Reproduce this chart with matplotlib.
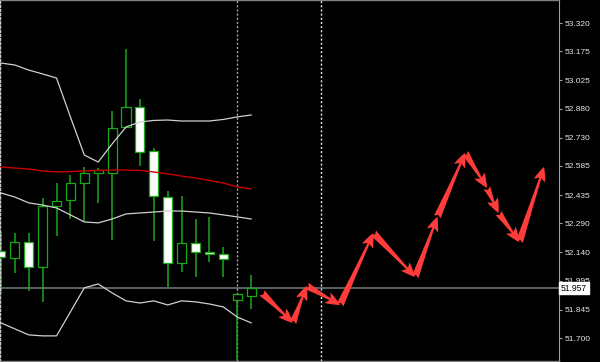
import matplotlib
matplotlib.use("Agg")
import matplotlib.pyplot as plt

# ---- data ----
opens  = [52.149, 52.112, 52.194, 52.065, 52.379, 52.410, 52.497, 52.549, 52.549, 52.785,
          52.888, 52.662, 52.425, 52.086, 52.189, 52.143, 52.132, 51.896, 51.916]
highs  = [52.245, 52.240, 52.240, 52.420, 52.497, 52.539, 52.580, 52.574, 52.868, 53.186,
          52.929, 52.677, 52.456, 52.431, 52.312, 52.323, 52.168, 51.927, 52.024]
lows   = [51.932, 52.035, 51.942, 51.886, 52.225, 52.312, 52.297, 52.395, 52.204, 52.780,
          52.585, 52.199, 51.963, 52.040, 52.014, 52.091, 52.014, 51.587, 51.850]
closes = [52.115, 52.194, 52.065, 52.379, 52.405, 52.497, 52.549, 52.564, 52.780, 52.888,
          52.657, 52.431, 52.086, 52.189, 52.143, 52.132, 52.107, 51.927, 51.957]

upper_band  = [53.114, 53.104, 53.078, 53.058, 53.037, 52.837, 52.641, 52.605, 52.698, 52.785,
               52.811, 52.819, 52.821, 52.816, 52.816, 52.816, 52.824, 52.837, 52.847]
middle_band = [52.446, 52.425, 52.395, 52.384, 52.369, 52.333, 52.297, 52.292, 52.312, 52.338,
               52.343, 52.348, 52.353, 52.353, 52.348, 52.343, 52.333, 52.323, 52.312]
lower_band  = [51.778, 51.747, 51.716, 51.711, 51.711, 51.834, 51.958, 51.978, 51.932, 51.891,
               51.880, 51.891, 51.870, 51.891, 51.886, 51.875, 51.860, 51.808, 51.778]
ma_red      = [52.580, 52.574, 52.569, 52.559, 52.554, 52.556, 52.559, 52.562, 52.564, 52.564,
               52.562, 52.554, 52.544, 52.533, 52.523, 52.510, 52.497, 52.477, 52.467]

arrow_x = [18.78, 21.0, 22.0, 24.4, 26.8, 29.8, 31.4, 33.4, 34.97, 35.8, 37.3, 39.07]
arrow_y = [51.932, 51.778, 51.968, 51.870, 52.240, 52.014, 52.323, 52.652, 52.472, 52.343,
           52.194, 52.580]

current_price = 51.957
current_label = "51.957"
sep_gray = [17]
sep_white = [23]
tick_labels = ["53.320", "53.175", "53.025", "52.880", "52.730", "52.585",
               "52.435", "52.290", "52.140", "51.995", "51.845", "51.700"]

# ---- style ----
BG = "black"
GREEN = "#18A818"
BAND = "#D0D0D0"
RED_MA = "#C80000"
ARROW = "#FF3C3C"
FONT = "Liberation Sans"

fig = plt.figure(figsize=(6.0, 3.62), dpi=100, facecolor=BG)
ax = fig.add_axes([0.0, 0.003, 559 / 600, 0.997])
ax.set_facecolor(BG)

xs = list(range(len(opens)))

# wicks
ax.vlines(xs, lows, highs, color=GREEN, linewidth=1.1, zorder=2)
# bodies
for x, o, c in zip(xs, opens, closes):
    fill = "black" if c >= o else "white"
    ax.bar(x, abs(c - o), bottom=min(o, c), width=0.66, color=fill,
           edgecolor=GREEN, linewidth=0.9, zorder=3)

# indicators
for band in (upper_band, middle_band, lower_band):
    ax.plot(xs, band, color=BAND, linewidth=0.9, zorder=4)
ax.plot(xs, ma_red, color=RED_MA, linewidth=1.0, zorder=4)

# current price line
ax.axhline(current_price, color="#5E6A72", linewidth=1.3, zorder=1)

# separators
for s in sep_gray:
    ax.axvline(s, color="#A8A8A8", linewidth=1.0, linestyle=(0, (1.5, 1.5)), zorder=1)
for s in sep_white:
    ax.axvline(s, color="#E8E8E8", linewidth=1.0, linestyle=(0, (1.5, 1.5)), zorder=1)

# arrows
for i in range(len(arrow_x) - 1):
    ax.annotate("", xy=(arrow_x[i + 1], arrow_y[i + 1]), xytext=(arrow_x[i], arrow_y[i]),
                arrowprops=dict(arrowstyle="fancy,head_length=0.8,head_width=0.65,tail_width=0.4",
                                fc=ARROW, ec="none", shrinkA=0, shrinkB=0,
                                mutation_scale=13),
                zorder=5)

# axes limits / ticks
ax.set_xlim(-0.065, 40.15)
ax.set_ylim(51.5822, 53.4383)
ax.set_xticks([])
ax.yaxis.tick_right()
ax.set_yticks([float(t) for t in tick_labels])
ax.set_yticklabels(tick_labels)
ax.tick_params(axis="y", direction="out", length=2.5, width=0.8, color="#A0A0A0",
               labelcolor="#E6E6E6", labelsize=6, pad=1.5)
for lab in ax.get_yticklabels():
    lab.set_fontfamily(FONT)

for side in ("top", "bottom"):
    ax.spines[side].set_color("#808080")
    ax.spines[side].set_linewidth(1.0)
ax.spines["right"].set_color("#A0A0A0")
ax.spines["right"].set_linewidth(0.8)
ax.spines["left"].set_color("#D0D0D0")
ax.spines["left"].set_linewidth(1.0)
ax.spines["left"].set_linestyle((0, (1.5, 1.5)))

# current price label box
ax.annotate(current_label, xy=(1.0, current_price), xycoords=("axes fraction", "data"),
            xytext=(1.5, 0), textcoords="offset points", ha="left", va="center",
            fontsize=6.2, fontfamily=FONT, color="black",
            bbox=dict(boxstyle="square,pad=0.2", fc="white", ec="white"),
            annotation_clip=False, zorder=10)

fig.savefig("out.png", dpi=100, facecolor=BG)
